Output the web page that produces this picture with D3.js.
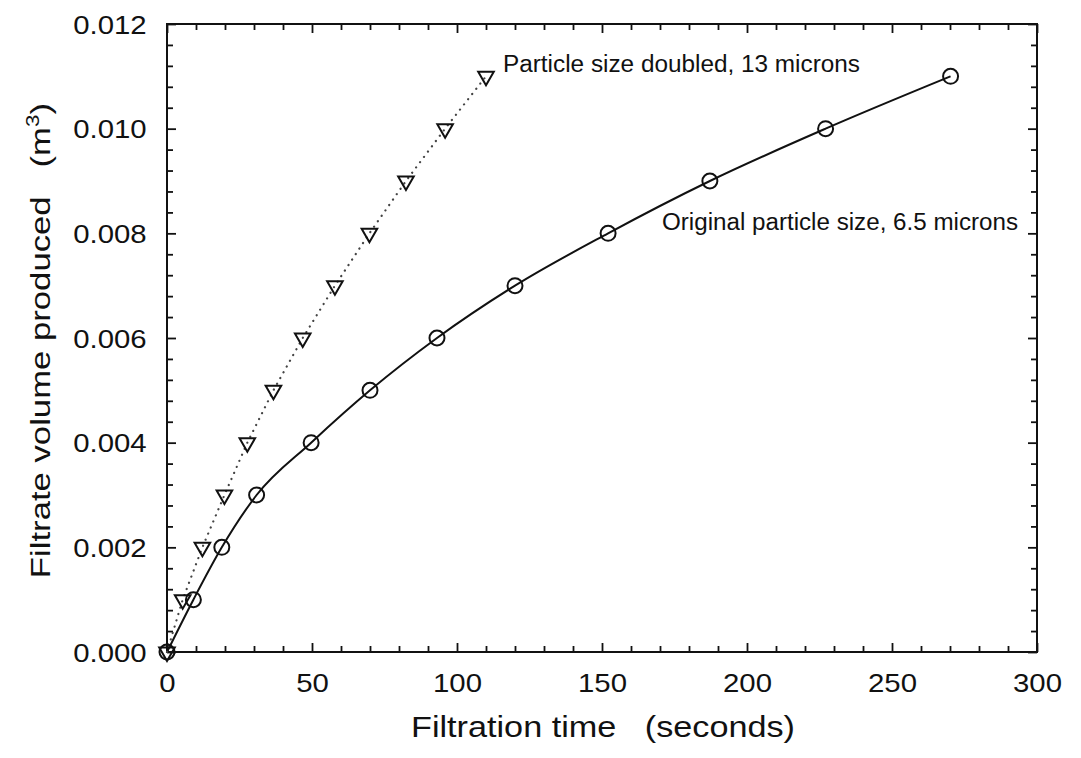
<!DOCTYPE html>
<html>
<head>
<meta charset="utf-8">
<script src="https://cdn.jsdelivr.net/npm/d3@7"></script>
<style>
  html, body { margin: 0; padding: 0; background: #fff; }
  svg { display: block; font-family: "Liberation Sans", Arial, sans-serif; }
</style>
</head>
<body>
<svg id="chart" width="1081" height="758"></svg>
<script>
// Filtration runs: time (s) needed to collect each filtrate volume (m^3)
const volumes = [0, 0.001, 0.002, 0.003, 0.004, 0.005, 0.006, 0.007, 0.008, 0.009, 0.010, 0.011];
const timeOriginal = [0, 9.1, 18.9, 30.9, 49.7, 70.0, 93.1, 120.0, 152.1, 187.2, 227.1, 270.2];
const timeDoubled  = [0, 5.4, 12.2, 19.8, 27.7, 36.7, 46.8, 57.9, 69.8, 82.4, 95.9, 110.0];

const xTicks = [0, 50, 100, 150, 200, 250, 300];
const yTicks = [0, 0.002, 0.004, 0.006, 0.008, 0.010, 0.012];
const labelOriginal = "Original particle size, 6.5 microns";
const labelDoubled = "Particle size doubled, 13 microns";

const svg = d3.select("#chart");
const plotLeft = 167, plotRight = 1037, plotTop = 24, plotBottom = 652;
const ink = "#111";
const stretch = "scale(1.13,1)";

const x = d3.scaleLinear().domain([0, 300]).range([plotLeft, plotRight]);
const y = d3.scaleLinear().domain([0, 0.012]).range([plotBottom, plotTop]);

const xMinor = d3.range(0, 301, 10).filter(v => v % 50 !== 0);
const yMinor = d3.range(0, 31).filter(i => i % 5 !== 0).map(i => i * 0.0004);

// minor ticks on all four sides, pointing inward
svg.append("g").attr("transform", `translate(0,${plotBottom})`)
  .call(d3.axisBottom(x).tickValues(xMinor).tickSize(-6).tickSizeOuter(0).tickFormat(""));
svg.append("g").attr("transform", `translate(0,${plotTop})`)
  .call(d3.axisTop(x).tickValues(xMinor).tickSize(-6).tickSizeOuter(0).tickFormat(""));
svg.append("g").attr("transform", `translate(${plotLeft},0)`)
  .call(d3.axisLeft(y).tickValues(yMinor).tickSize(-6).tickSizeOuter(0).tickFormat(""));
svg.append("g").attr("transform", `translate(${plotRight},0)`)
  .call(d3.axisRight(y).tickValues(yMinor).tickSize(-6).tickSizeOuter(0).tickFormat(""));

// major ticks with labels on bottom and left
const gx = svg.append("g").attr("transform", `translate(0,${plotBottom})`)
  .call(d3.axisBottom(x).tickValues(xTicks).tickSize(-9).tickSizeOuter(0).tickFormat(d3.format("d")));
svg.append("g").attr("transform", `translate(0,${plotTop})`)
  .call(d3.axisTop(x).tickValues(xTicks).tickSize(-9).tickSizeOuter(0).tickFormat(""));
const gy = svg.append("g").attr("transform", `translate(${plotLeft},0)`)
  .call(d3.axisLeft(y).tickValues(yTicks).tickSize(-9).tickSizeOuter(0).tickFormat(d3.format(".3f")));
svg.append("g").attr("transform", `translate(${plotRight},0)`)
  .call(d3.axisRight(y).tickValues(yTicks).tickSize(-9).tickSizeOuter(0).tickFormat(""));

svg.selectAll(".tick line").attr("stroke", ink).attr("stroke-width", 1.8);
svg.selectAll(".domain").attr("stroke", "none");

gx.selectAll("text")
  .attr("y", 40).attr("dy", null)
  .attr("fill", ink).attr("font-size", 26)
  .attr("font-family", "Liberation Sans, Arial, sans-serif")
  .attr("transform", stretch);
gy.selectAll("text")
  .attr("x", -18).attr("dy", "0.35em")
  .attr("fill", ink).attr("font-size", 26)
  .attr("font-family", "Liberation Sans, Arial, sans-serif")
  .attr("transform", stretch);

// frame
svg.append("rect")
  .attr("x", plotLeft).attr("y", plotTop)
  .attr("width", plotRight - plotLeft).attr("height", plotBottom - plotTop)
  .attr("fill", "none").attr("stroke", ink).attr("stroke-width", 2);

const original = volumes.map((v, i) => ({ t: timeOriginal[i], v }));
const doubled = volumes.map((v, i) => ({ t: timeDoubled[i], v }));

// smooth solid curve for the original particle size
svg.append("path")
  .datum(original)
  .attr("fill", "none").attr("stroke", ink).attr("stroke-width", 2)
  .attr("d", d3.line().x(d => x(d.t)).y(d => y(d.v)).curve(d3.curveMonotoneX));

// dotted line for the doubled particle size
svg.append("path")
  .datum(doubled)
  .attr("fill", "none").attr("stroke", "#444").attr("stroke-width", 2.2)
  .attr("stroke-linecap", "round").attr("stroke-dasharray", "0.1,6.5")
  .attr("d", d3.line().x(d => x(d.t)).y(d => y(d.v)));

svg.append("g").selectAll("circle")
  .data(original).join("circle")
  .attr("cx", d => x(d.t)).attr("cy", d => y(d.v)).attr("r", 7.5)
  .attr("fill", "none").attr("stroke", ink).attr("stroke-width", 2);

const tri = d3.symbol().type(d3.symbolTriangle).size(105);
svg.append("g").selectAll("path")
  .data(doubled).join("path")
  .attr("d", tri)
  .attr("transform", d => `translate(${x(d.t)},${y(d.v)}) rotate(180)`)
  .attr("fill", "none").attr("stroke", ink).attr("stroke-width", 2);

// series annotations
svg.append("text")
  .attr("x", 503).attr("y", 72)
  .attr("font-size", 23.5).attr("fill", ink)
  .attr("textLength", 357).attr("lengthAdjust", "spacingAndGlyphs")
  .text(labelDoubled);
svg.append("text")
  .attr("x", 662).attr("y", 230)
  .attr("font-size", 23.5).attr("fill", ink)
  .attr("textLength", 356).attr("lengthAdjust", "spacingAndGlyphs")
  .text(labelOriginal);

// axis titles
svg.append("text")
  .attr("x", 411).attr("y", 737)
  .attr("font-size", 30).attr("fill", ink)
  .attr("textLength", 384).attr("lengthAdjust", "spacingAndGlyphs")
  .style("white-space", "pre")
  .text("Filtration time   (seconds)");

const yTitle = svg.append("text")
  .attr("transform", "translate(50,103) rotate(-90) scale(1.24,1)")
  .attr("text-anchor", "end")
  .attr("font-size", 28).attr("fill", ink)
  .style("white-space", "pre");
yTitle.append("tspan").text("Filtrate volume produced   (m");
yTitle.append("tspan").attr("font-size", 18).attr("dy", -11).text("3");
yTitle.append("tspan").attr("dy", 11).text(")");
</script>
</body>
</html>
